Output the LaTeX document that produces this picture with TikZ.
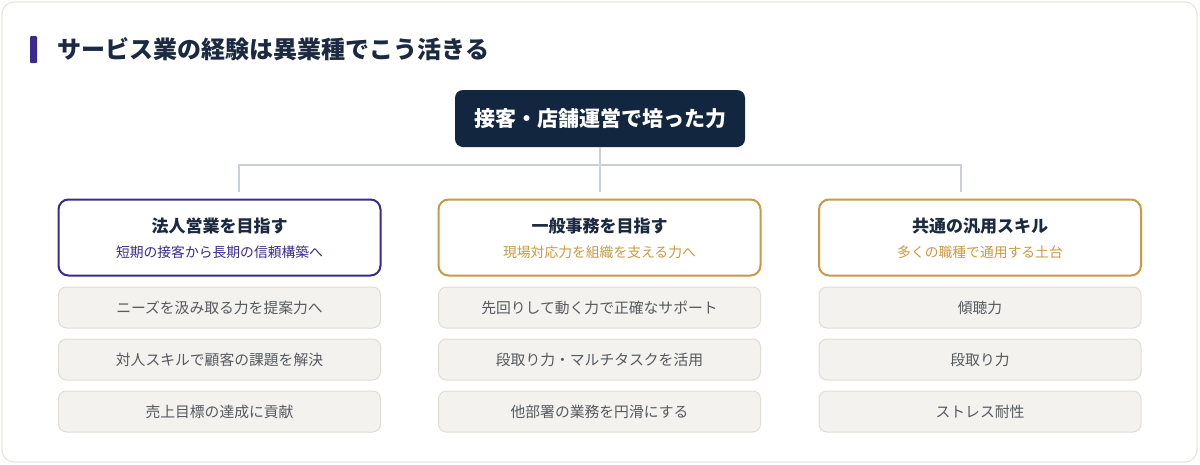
\documentclass[tikz,border=0pt]{standalone}
\usepackage{fontspec}
\setmainfont{Noto Sans CJK JP}
\definecolor{navy}{HTML}{12263F}
\definecolor{titlec}{HTML}{1B2A41}
\definecolor{purp}{HTML}{3B2A8C}
\definecolor{gold}{HTML}{C99A45}
\definecolor{linec}{HTML}{C9D0D8}
\definecolor{itemfill}{HTML}{F4F2EE}
\definecolor{itemdraw}{HTML}{E0DDD5}
\definecolor{itemtext}{HTML}{555A60}
\definecolor{cardline}{HTML}{E9E7DD}
\begin{document}
\begin{tikzpicture}[x=1pt,y=-1pt,
  card/.style={draw=cardline,line width=1.2pt,fill=white,rounded corners=12pt},
  topbox/.style={fill=navy,rounded corners=8pt,minimum width=290pt,minimum height=57pt,text=white,font=\bfseries\fontsize{21}{24}\selectfont},
  headbox/.style={draw=#1,line width=2pt,fill=white,rounded corners=10pt,minimum width=322pt,minimum height=76pt},
  itembox/.style={draw=itemdraw,line width=1pt,fill=itemfill,rounded corners=8pt,minimum width=322pt,minimum height=41pt,text=itemtext,font=\fontsize{14.8}{17}\selectfont},
  conn/.style={draw=linec,line width=2pt},
  htitle/.style={text=titlec,font=\bfseries\fontsize{17}{20}\selectfont},
  hsub/.style={text=#1,font=\fontsize{13.8}{16}\selectfont}
]
\useasboundingbox (0,0) rectangle (1200,464);
\path[card] (2,2) rectangle (1197,462);
\fill[purp,rounded corners=1pt] (30,36) rectangle (37,63);
\node[anchor=west,text=titlec,font=\bfseries\fontsize{24}{28}\selectfont] (title) at (54,49.5) {サービス業の経験は異業種でこう活きる};
\node[topbox] (top) at (600,118.5) {接客・店舗運営で培った力};
% columns
\node[headbox=purp] (h1) at (219.5,237.5) {};
\node[headbox=gold] (h2) at (599.5,237.5) {};
\node[headbox=gold] (h3) at (980,237.5) {};
\node[htitle] (h1t) at (219.5,226) {法人営業を目指す};
\node[hsub=purp] (h1s) at (219.5,252) {短期の接客から長期の信頼構築へ};
\node[htitle] (h2t) at (599.5,226) {一般事務を目指す};
\node[hsub=gold] (h2s) at (599.5,252) {現場対応力を組織を支える力へ};
\node[htitle] (h3t) at (980,226) {共通の汎用スキル};
\node[hsub=gold] (h3s) at (980,252) {多くの職種で通用する土台};
% connectors
\coordinate (j) at (600,165);
\coordinate (d1) at (239,192);
\coordinate (d2) at (600,192);
\coordinate (d3) at (961,192);
\draw[conn] (top.south) -- (j);
\draw[conn] (d1) |- (j);
\draw[conn] (d3) |- (j);
\draw[conn] (j) -- (d2);
% items
\node[itembox] (a1) at (219.5,307.5) {ニーズを汲み取る力を提案力へ};
\node[itembox] (a2) at (219.5,359.5) {対人スキルで顧客の課題を解決};
\node[itembox] (a3) at (219.5,411.5) {売上目標の達成に貢献};
\node[itembox] (b1) at (599.5,307.5) {先回りして動く力で正確なサポート};
\node[itembox] (b2) at (599.5,359.5) {段取り力・マルチタスクを活用};
\node[itembox] (b3) at (599.5,411.5) {他部署の業務を円滑にする};
\node[itembox] (c1) at (980,307.5) {傾聴力};
\node[itembox] (c2) at (980,359.5) {段取り力};
\node[itembox] (c3) at (980,411.5) {ストレス耐性};
\end{tikzpicture}
\end{document}
